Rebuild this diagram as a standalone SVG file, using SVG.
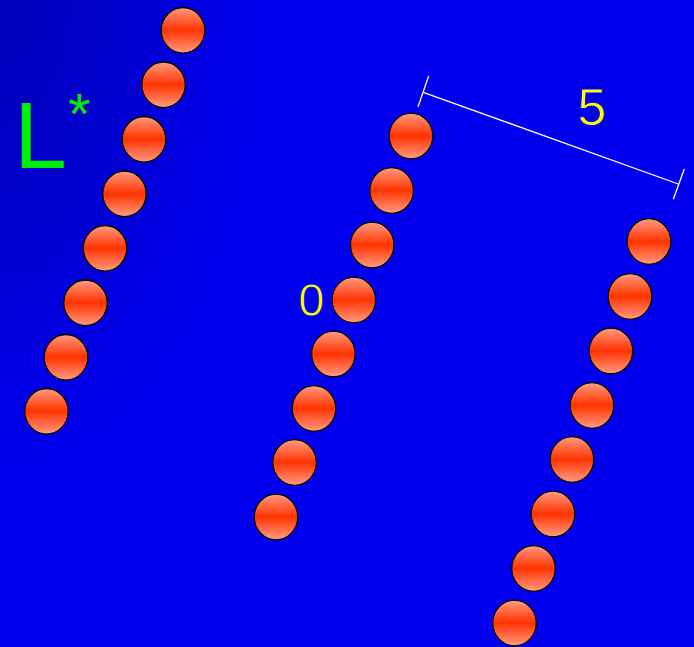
<svg xmlns="http://www.w3.org/2000/svg" width="694" height="647" viewBox="0 0 694 647">
<defs>
<radialGradient id="bg" gradientUnits="userSpaceOnUse" cx="0" cy="0" r="260" gradientTransform="scale(1,1.8)">
<stop offset="0" stop-color="#0000bc"/>
<stop offset="0.45" stop-color="#0000cc"/>
<stop offset="1" stop-color="#0000ee"/>
</radialGradient>
<linearGradient id="ball" x1="0" y1="0" x2="0" y2="1">
<stop offset="0" stop-color="#ff9c80"/>
<stop offset="0.5" stop-color="#ff3300"/>
<stop offset="1" stop-color="#ff9c80"/>
</linearGradient>
<style>
.b{fill:url(#ball);stroke:#000;stroke-width:1.3}
.dim{stroke:#fff;stroke-width:1.3;fill:none}
.t{font-family:"Liberation Sans",Arial,sans-serif}
.thin{stroke:url(#bg);stroke-width:0.9}
</style>
</defs>
<rect width="694" height="647" fill="url(#bg)"/>
<g id="chain1">
<ellipse class="b" cx="183" cy="30.3" rx="21.8" ry="22.8"/>
<ellipse class="b" cx="163.5" cy="84.8" rx="21.8" ry="22.8"/>
<ellipse class="b" cx="144" cy="139.3" rx="21.8" ry="22.8"/>
<ellipse class="b" cx="124.5" cy="193.8" rx="21.8" ry="22.8"/>
<ellipse class="b" cx="105" cy="248.3" rx="21.8" ry="22.8"/>
<ellipse class="b" cx="85.5" cy="302.8" rx="21.8" ry="22.8"/>
<ellipse class="b" cx="66" cy="357.3" rx="21.8" ry="22.8"/>
<ellipse class="b" cx="46.5" cy="411.3" rx="21.8" ry="22.8"/>
</g>
<g id="chain2">
<ellipse class="b" cx="411" cy="136" rx="21.8" ry="22.8"/>
<ellipse class="b" cx="391.6" cy="190.5" rx="21.8" ry="22.8"/>
<ellipse class="b" cx="372.2" cy="245" rx="21.8" ry="22.8"/>
<ellipse class="b" cx="353.8" cy="300" rx="21.8" ry="22.8"/>
<ellipse class="b" cx="333.4" cy="354" rx="21.8" ry="22.8"/>
<ellipse class="b" cx="314" cy="408.5" rx="21.8" ry="22.8"/>
<ellipse class="b" cx="294.6" cy="462.5" rx="21.8" ry="22.8"/>
<ellipse class="b" cx="276" cy="517" rx="21.8" ry="22.8"/>
</g>
<g id="chain3">
<ellipse class="b" cx="649" cy="241.5" rx="21.8" ry="22.8"/>
<ellipse class="b" cx="630" cy="296.5" rx="21.8" ry="22.8"/>
<ellipse class="b" cx="611" cy="351" rx="21.8" ry="22.8"/>
<ellipse class="b" cx="592" cy="405.5" rx="21.8" ry="22.8"/>
<ellipse class="b" cx="572" cy="459.5" rx="21.8" ry="22.8"/>
<ellipse class="b" cx="553" cy="514" rx="21.8" ry="22.8"/>
<ellipse class="b" cx="533.5" cy="568.5" rx="21.8" ry="22.8"/>
<ellipse class="b" cx="514.5" cy="623" rx="21.8" ry="22.8"/>
</g>
<g id="connectors">
<line class="dim" x1="423.3" y1="92.3" x2="678.3" y2="184"/>
<line class="dim" x1="428.7" y1="76" x2="418" y2="106.7"/>
<line class="dim" x1="684.3" y1="169" x2="673.3" y2="199.3"/>
</g>
<g id="labels">
<text class="t" x="14" y="167.5" font-size="95" fill="#00ee00">L</text>
<text class="t" x="68" y="134" font-size="58" fill="#00ee00">*</text>
<text class="t thin" x="592" y="124.5" font-size="52" fill="#ffff00" text-anchor="middle">5</text>
<text class="t thin" x="311.3" y="316" font-size="47" fill="#ffff00" text-anchor="middle">0</text>
</g>
</svg>
